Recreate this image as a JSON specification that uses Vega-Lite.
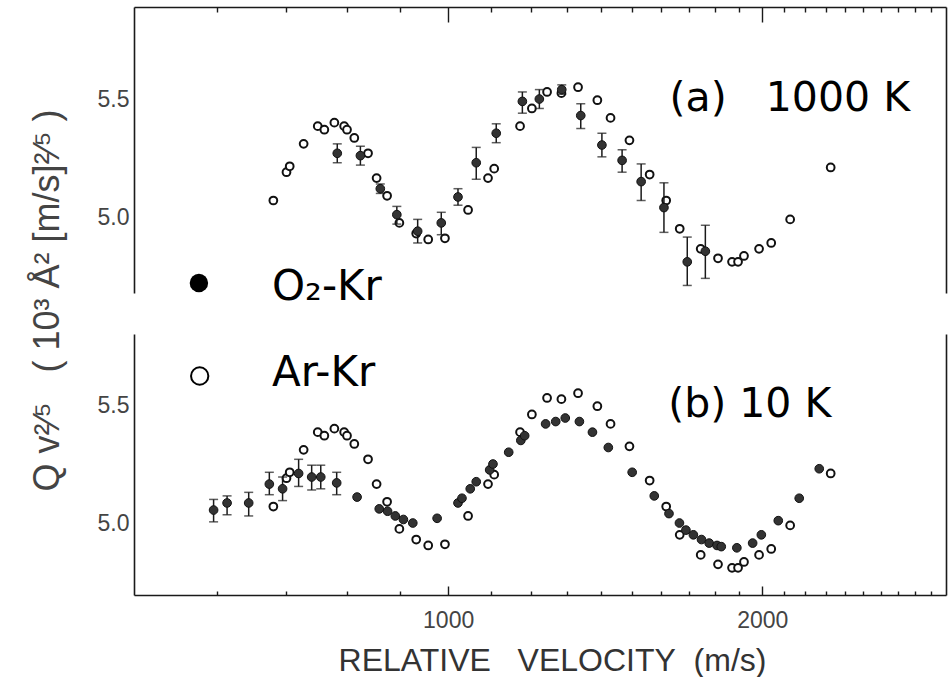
{
  "$schema": "https://vega.github.io/schema/vega-lite/v6.json",
  "autosize": {"type": "pad"},
  "padding": {"left": 28, "top": 7, "right": 4, "bottom": 2},
  "background": "white",
  "bounds": "flush",
  "spacing": 41,
  "resolve": {"scale": {"x": "independent", "y": "independent"}},
  "config": {
    "view": {"stroke": null},
    "axis": {
      "grid": false,
      "domainColor": "#1a1a1a",
      "tickColor": "#1a1a1a",
      "gridColor": "#1a1a1a",
      "gridOpacity": 1,
      "gridWidth": 1.4,
      "domainWidth": 1.6,
      "tickWidth": 1.4,
      "labelColor": "#444",
      "labelFont": "Liberation Sans",
      "labelFontSize": 23,
      "titleFont": "Liberation Sans",
      "titleColor": "#444",
      "titleFontWeight": "normal"
    }
  },
  "datasets": {
    "ar": [
      {"v": 680, "q": 5.07}, {"v": 700, "q": 5.19}, {"v": 705, "q": 5.215}, {"v": 727, "q": 5.31},
      {"v": 750, "q": 5.385}, {"v": 761, "q": 5.37}, {"v": 778, "q": 5.4}, {"v": 795, "q": 5.385},
      {"v": 800, "q": 5.37}, {"v": 813, "q": 5.335}, {"v": 838, "q": 5.27}, {"v": 854, "q": 5.165},
      {"v": 874, "q": 5.09}, {"v": 898, "q": 4.975}, {"v": 932, "q": 4.93}, {"v": 957, "q": 4.905},
      {"v": 993, "q": 4.91}, {"v": 1045, "q": 5.03}, {"v": 1092, "q": 5.165}, {"v": 1107, "q": 5.205},
      {"v": 1172, "q": 5.385}, {"v": 1203, "q": 5.46}, {"v": 1244, "q": 5.53}, {"v": 1284, "q": 5.525},
      {"v": 1332, "q": 5.55}, {"v": 1390, "q": 5.495}, {"v": 1431, "q": 5.42}, {"v": 1492, "q": 5.325},
      {"v": 1560, "q": 5.18}, {"v": 1618, "q": 5.07}, {"v": 1667, "q": 4.95}, {"v": 1746, "q": 4.865},
      {"v": 1814, "q": 4.825}, {"v": 1871, "q": 4.81}, {"v": 1896, "q": 4.81}, {"v": 1921, "q": 4.835},
      {"v": 1986, "q": 4.865}, {"v": 2040, "q": 4.89}, {"v": 2127, "q": 4.99}, {"v": 2326, "q": 5.21}
    ],
    "o2_1000": [
      {"v": 783, "q": 5.27, "lo": 5.23, "hi": 5.31},
      {"v": 824, "q": 5.26, "lo": 5.22, "hi": 5.3},
      {"v": 861, "q": 5.12, "lo": 5.1, "hi": 5.14},
      {"v": 893, "q": 5.01, "lo": 4.97, "hi": 5.045},
      {"v": 935, "q": 4.94, "lo": 4.89, "hi": 4.99},
      {"v": 985, "q": 4.975, "lo": 4.925, "hi": 5.02},
      {"v": 1022, "q": 5.085, "lo": 5.05, "hi": 5.12},
      {"v": 1064, "q": 5.23, "lo": 5.16, "hi": 5.295},
      {"v": 1112, "q": 5.355, "lo": 5.315, "hi": 5.395},
      {"v": 1178, "q": 5.49, "lo": 5.44, "hi": 5.53},
      {"v": 1223, "q": 5.5, "lo": 5.46, "hi": 5.54},
      {"v": 1285, "q": 5.54, "lo": 5.52, "hi": 5.56},
      {"v": 1340, "q": 5.43, "lo": 5.375, "hi": 5.48},
      {"v": 1404, "q": 5.305, "lo": 5.255, "hi": 5.355},
      {"v": 1468, "q": 5.24, "lo": 5.19, "hi": 5.285},
      {"v": 1531, "q": 5.15, "lo": 5.07, "hi": 5.225},
      {"v": 1610, "q": 5.04, "lo": 4.935, "hi": 5.145},
      {"v": 1695, "q": 4.81, "lo": 4.71, "hi": 4.915},
      {"v": 1764, "q": 4.855, "lo": 4.74, "hi": 4.965}
    ],
    "o2_10": [
      {"v": 596, "q": 5.055, "lo": 5.005, "hi": 5.1},
      {"v": 614, "q": 5.085, "lo": 5.035, "hi": 5.115},
      {"v": 644, "q": 5.085, "lo": 5.03, "hi": 5.13},
      {"v": 674, "q": 5.165, "lo": 5.12, "hi": 5.215},
      {"v": 694, "q": 5.145, "lo": 5.095, "hi": 5.195},
      {"v": 719, "q": 5.21, "lo": 5.155, "hi": 5.27},
      {"v": 740, "q": 5.195, "lo": 5.14, "hi": 5.245},
      {"v": 755, "q": 5.195, "lo": 5.145, "hi": 5.245},
      {"v": 782, "q": 5.17, "lo": 5.12, "hi": 5.215},
      {"v": 818, "q": 5.11}, {"v": 859, "q": 5.06}, {"v": 875, "q": 5.05}, {"v": 890, "q": 5.03},
      {"v": 906, "q": 5.015}, {"v": 925, "q": 5.0}, {"v": 976, "q": 5.02}, {"v": 1022, "q": 5.085},
      {"v": 1031, "q": 5.105}, {"v": 1050, "q": 5.145}, {"v": 1064, "q": 5.175}, {"v": 1096, "q": 5.225},
      {"v": 1104, "q": 5.25}, {"v": 1143, "q": 5.3}, {"v": 1174, "q": 5.35}, {"v": 1184, "q": 5.37},
      {"v": 1240, "q": 5.42}, {"v": 1268, "q": 5.43}, {"v": 1295, "q": 5.445}, {"v": 1336, "q": 5.43},
      {"v": 1375, "q": 5.385}, {"v": 1424, "q": 5.32}, {"v": 1501, "q": 5.215}, {"v": 1576, "q": 5.115},
      {"v": 1628, "q": 5.04}, {"v": 1666, "q": 5.0}, {"v": 1690, "q": 4.97}, {"v": 1718, "q": 4.95},
      {"v": 1749, "q": 4.93}, {"v": 1779, "q": 4.915}, {"v": 1810, "q": 4.905}, {"v": 1827, "q": 4.9},
      {"v": 1891, "q": 4.895}, {"v": 1958, "q": 4.915}, {"v": 1996, "q": 4.95}, {"v": 2072, "q": 5.01},
      {"v": 2170, "q": 5.105}, {"v": 2268, "q": 5.23}
    ]
  },
  "vconcat": [
    {
      "width": 812,
      "height": 286,
      "resolve": {"axis": {"x": "independent", "y": "independent"}},
      "layer": [
        {
          "data": {"name": "ar"},
          "mark": {"type": "point", "shape": "circle", "fill": "white", "stroke": "#111", "strokeWidth": 2, "size": 60, "opacity": 1},
          "encoding": {
            "x": {"field": "v", "type": "quantitative",
                  "scale": {"type": "log", "domain": [500, 3000], "nice": false},
                  "axis": {"orient": "top", "values": [600,700,800,900,1100,1200,1300,1400,1500,1600,1700,1800,1900,2100,2200,2300,2400,2500,2600,2700,2800,2900],
                           "ticks": false, "labels": false, "domain": false, "grid": true, "gridDash": [0, 281, 5, 2000], "title": null}},
            "y": {"field": "q", "type": "quantitative",
                  "scale": {"domain": [4.678, 5.89], "nice": false, "zero": false},
                  "axis": null}
          }
        },
        {
          "data": {"name": "o2_1000"},
          "mark": {"type": "rule", "color": "#1a1a1a", "strokeWidth": 1.5},
          "encoding": {
            "x": {"field": "v", "type": "quantitative",
                  "axis": {"orient": "top", "ticks": false, "labels": false, "domain": true, "title": null}},
            "y": {"field": "lo", "type": "quantitative",
                  "axis": {"orient": "left", "values": [5, 5.5], "ticks": false, "domain": false,
                           "labelPadding": 5, "format": ".1f", "title": null}},
            "y2": {"field": "hi"}
          }
        },
        {
          "data": {"name": "o2_1000"},
          "mark": {"type": "tick", "orient": "horizontal", "color": "#1a1a1a", "thickness": 1.5, "size": 9},
          "encoding": {
            "x": {"field": "v", "type": "quantitative", "axis": null},
            "y": {"field": "lo", "type": "quantitative",
                  "axis": {"orient": "left", "ticks": false, "labels": false, "domain": true,
                           "title": "Q v²⁄⁵\u00a0\u00a0\u00a0(\u00a010³\u00a0Å²\u00a0[m/s]²⁄⁵\u00a0)",
                           "titleX": -68, "titleY": 293, "titleAngle": -90, "titleAlign": "center",
                           "titleBaseline": "bottom", "titleFontSize": 36}}
          }
        },
        {
          "data": {"name": "o2_1000"},
          "mark": {"type": "tick", "orient": "horizontal", "color": "#1a1a1a", "thickness": 1.5, "size": 9},
          "encoding": {
            "x": {"field": "v", "type": "quantitative", "axis": null},
            "y": {"field": "hi", "type": "quantitative",
                  "axis": {"orient": "right", "ticks": false, "labels": false, "domain": true, "title": null}}
          }
        },
        {
          "data": {"name": "o2_1000"},
          "mark": {"type": "point", "shape": "circle", "filled": true, "fill": "#333", "stroke": "#111", "strokeWidth": 1, "size": 75, "opacity": 1},
          "encoding": {
            "x": {"field": "v", "type": "quantitative",
                  "axis": {"orient": "top", "values": [1000, 2000], "ticks": false, "labels": false, "domain": false,
                           "grid": true, "gridDash": [0, 271, 15, 2000], "title": null}},
            "y": {"field": "q", "type": "quantitative", "axis": null}
          }
        },
        {
          "data": {"values": [{"t": "(a)\u00a0\u00a0\u00a01000 K"}]},
          "mark": {"type": "text", "font": "DejaVu Sans", "fontSize": 41, "align": "left", "baseline": "middle", "color": "#000"},
          "encoding": {
            "x": {"datum": 1630, "type": "quantitative", "axis": null},
            "y": {"datum": 5.5, "type": "quantitative", "axis": null},
            "text": {"field": "t"}
          }
        },
        {
          "data": {"values": [{"s": "O2-Kr"}]},
          "mark": {"type": "point", "shape": "circle", "filled": true, "color": "#000", "size": 340, "opacity": 1},
          "encoding": {
            "x": {"datum": 577, "type": "quantitative", "axis": null},
            "y": {"datum": 4.72, "type": "quantitative", "axis": null}
          }
        },
        {
          "data": {"values": [{"t": "O₂-Kr"}]},
          "mark": {"type": "text", "font": "DejaVu Sans", "fontSize": 42, "align": "left", "baseline": "alphabetic", "color": "#000"},
          "encoding": {
            "x": {"datum": 678, "type": "quantitative", "axis": null},
            "y": {"datum": 4.65, "type": "quantitative", "axis": null},
            "text": {"field": "t"}
          }
        }
      ]
    },
    {
      "width": 812,
      "height": 261,
      "resolve": {"axis": {"x": "independent", "y": "independent"}},
      "layer": [
        {
          "data": {"name": "ar"},
          "mark": {"type": "point", "shape": "circle", "fill": "white", "stroke": "#111", "strokeWidth": 2, "size": 60, "opacity": 1},
          "encoding": {
            "x": {"field": "v", "type": "quantitative",
                  "scale": {"type": "log", "domain": [500, 3000], "nice": false},
                  "axis": {"orient": "bottom", "values": [600,700,800,900,1100,1200,1300,1400,1500,1600,1700,1800,1900,2100,2200,2300,2400,2500,2600,2700,2800,2900],
                           "ticks": false, "labels": false, "domain": false, "grid": true, "gridDash": [0, 257, 4, 2000], "title": null}},
            "y": {"field": "q", "type": "quantitative",
                  "scale": {"domain": [4.695, 5.801], "nice": false, "zero": false},
                  "axis": null}
          }
        },
        {
          "data": {"name": "o2_10"},
          "transform": [{"filter": "isValid(datum.lo)"}],
          "mark": {"type": "rule", "color": "#1a1a1a", "strokeWidth": 1.5},
          "encoding": {
            "x": {"field": "v", "type": "quantitative",
                  "axis": {"orient": "bottom", "values": [1000, 2000], "ticks": false, "domain": false,
                           "labelPadding": 14, "format": "d", "title": null}},
            "y": {"field": "lo", "type": "quantitative",
                  "axis": {"orient": "left", "values": [5, 5.5], "ticks": false, "domain": false,
                           "labelPadding": 5, "format": ".1f", "title": null}},
            "y2": {"field": "hi"}
          }
        },
        {
          "data": {"name": "o2_10"},
          "transform": [{"filter": "isValid(datum.lo)"}],
          "mark": {"type": "tick", "orient": "horizontal", "color": "#1a1a1a", "thickness": 1.5, "size": 9},
          "encoding": {
            "x": {"field": "v", "type": "quantitative",
                  "axis": {"orient": "bottom", "ticks": false, "labels": false, "domain": true,
                           "title": "RELATIVE\u00a0\u00a0\u00a0VELOCITY\u00a0\u00a0(m/s)",
                           "titleX": 418, "titleY": 65, "titleAlign": "center", "titleBaseline": "middle",
                           "titleFontSize": 32, "titleColor": "#333"}},
            "y": {"field": "lo", "type": "quantitative",
                  "axis": {"orient": "left", "ticks": false, "labels": false, "domain": true, "title": null}}
          }
        },
        {
          "data": {"name": "o2_10"},
          "transform": [{"filter": "isValid(datum.hi)"}],
          "mark": {"type": "tick", "orient": "horizontal", "color": "#1a1a1a", "thickness": 1.5, "size": 9},
          "encoding": {
            "x": {"field": "v", "type": "quantitative", "axis": null},
            "y": {"field": "hi", "type": "quantitative",
                  "axis": {"orient": "right", "ticks": false, "labels": false, "domain": true, "title": null}}
          }
        },
        {
          "data": {"name": "o2_10"},
          "mark": {"type": "point", "shape": "circle", "filled": true, "fill": "#333", "stroke": "#111", "strokeWidth": 1, "size": 75, "opacity": 1},
          "encoding": {
            "x": {"field": "v", "type": "quantitative",
                  "axis": {"orient": "bottom", "values": [1000, 2000], "ticks": false, "labels": false, "domain": false,
                           "grid": true, "gridDash": [0, 252, 9, 2000], "title": null}},
            "y": {"field": "q", "type": "quantitative", "axis": null}
          }
        },
        {
          "data": {"values": [{"t": "(b) 10 K"}]},
          "mark": {"type": "text", "font": "DejaVu Sans", "fontSize": 41, "align": "left", "baseline": "middle", "color": "#000"},
          "encoding": {
            "x": {"datum": 1625, "type": "quantitative", "axis": null},
            "y": {"datum": 5.5, "type": "quantitative", "axis": null},
            "text": {"field": "t"}
          }
        },
        {
          "data": {"values": [{"s": "Ar-Kr"}]},
          "mark": {"type": "point", "shape": "circle", "filled": false, "fill": "white", "stroke": "#000", "strokeWidth": 2, "size": 300, "opacity": 1},
          "encoding": {
            "x": {"datum": 578, "type": "quantitative", "axis": null},
            "y": {"datum": 5.623, "type": "quantitative", "axis": null}
          }
        },
        {
          "data": {"values": [{"t": "Ar-Kr"}]},
          "mark": {"type": "text", "font": "DejaVu Sans", "fontSize": 42, "align": "left", "baseline": "alphabetic", "color": "#000"},
          "encoding": {
            "x": {"datum": 678, "type": "quantitative", "axis": null},
            "y": {"datum": 5.58, "type": "quantitative", "axis": null},
            "text": {"field": "t"}
          }
        }
      ]
    }
  ]
}
